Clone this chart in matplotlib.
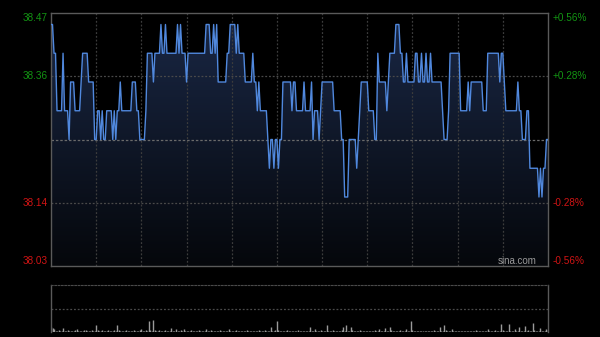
import numpy as np
import matplotlib
matplotlib.use('Agg')
import matplotlib.pyplot as plt
from matplotlib.colors import LinearSegmentedColormap
from matplotlib.transforms import blended_transform_factory

# Intraday price (HK session, 1 point per minute), stored as runs of equal price
seg_price = [38.45, 38.40, 38.30, 38.40, 38.30, 38.25, 38.35, 38.30, 38.35, 38.40,
             38.35, 38.25, 38.30, 38.25, 38.30, 38.25, 38.30, 38.25, 38.30, 38.25,
             38.30, 38.35, 38.30, 38.35, 38.30, 38.25, 38.30, 38.40, 38.35, 38.40,
             38.45, 38.40, 38.45, 38.40, 38.45, 38.40, 38.45, 38.40, 38.35, 38.40,
             38.45, 38.40, 38.45, 38.40, 38.45, 38.35, 38.40, 38.45, 38.40, 38.45,
             38.40, 38.35, 38.40, 38.35, 38.30, 38.35, 38.30, 38.25, 38.20, 38.25,
             38.20, 38.25, 38.20, 38.25, 38.35, 38.30, 38.35, 38.30, 38.35, 38.30,
             38.35, 38.25, 38.30, 38.25, 38.30, 38.35, 38.30, 38.25, 38.15, 38.25,
             38.20, 38.25, 38.30, 38.35, 38.30, 38.25, 38.40, 38.35, 38.30, 38.35,
             38.40, 38.45, 38.40, 38.35, 38.40, 38.35, 38.40, 38.35, 38.40, 38.35,
             38.40, 38.35, 38.40, 38.35, 38.30, 38.25, 38.30, 38.40, 38.30, 38.35,
             38.30, 38.35, 38.30, 38.40, 38.35, 38.40, 38.35, 38.30, 38.35, 38.30,
             38.25, 38.30, 38.20, 38.15, 38.20, 38.15, 38.20, 38.25]
seg_len = [2, 2, 4, 1, 3, 1, 3, 4, 1, 4,
           4, 2, 2, 1, 1, 2, 4, 1, 1, 1,
           2, 1, 7, 3, 2, 4, 1, 4, 1, 4,
           1, 2, 1, 7, 1, 1, 1, 3, 1, 12,
           3, 2, 1, 1, 1, 6, 2, 4, 1, 1,
           4, 5, 1, 2, 1, 1, 5, 1, 1, 2,
           1, 2, 1, 2, 6, 1, 2, 5, 1, 4,
           1, 1, 3, 1, 1, 8, 5, 2, 3, 5,
           1, 1, 1, 5, 4, 2, 1, 5, 1, 1,
           4, 3, 2, 2, 1, 5, 2, 2, 1, 2,
           1, 2, 1, 7, 1, 3, 1, 7, 5, 1,
           1, 8, 3, 8, 1, 2, 1, 8, 1, 2,
           3, 2, 6, 1, 1, 1, 2, 2]
price = np.repeat(seg_price, seg_len)

prev_close = 38.25
y_ticks = [38.47, 38.36, 38.14, 38.03]
y_labels = ['38.47', '38.36', '38.14', '38.03']
pct_labels = ['+0.56%', '+0.28%', '-0.28%', '-0.56%']

# volume per minute (relative)
volume = [5, 4, 3, 1, 1, 2, 1, 1, 4, 1,
          1, 2, 1, 1, 1, 1, 2, 3, 1, 1,
          1, 1, 2, 2, 1, 1, 1, 2, 1, 1,
          7, 2, 1, 1, 2, 1, 1, 1, 2, 1,
          1, 1, 2, 1, 7, 2, 1, 1, 1, 1,
          2, 1, 1, 1, 1, 2, 1, 1, 1, 2,
          3, 1, 1, 2, 1, 11, 2, 1, 12, 2,
          1, 1, 2, 1, 1, 1, 2, 1, 1, 1,
          4, 1, 1, 3, 1, 1, 2, 1, 3, 1,
          1, 1, 1, 2, 1, 1, 1, 1, 2, 1,
          1, 1, 1, 3, 1, 1, 2, 1, 1, 1,
          1, 1, 2, 1, 1, 1, 1, 1, 3, 1,
          1, 1, 1, 2, 1, 1, 1, 1, 1, 1,
          2, 1, 1, 1, 1, 1, 1, 1, 2, 1,
          1, 1, 2, 1, 1, 1, 5, 1, 1, 2,
          11, 2, 1, 1, 1, 1, 1, 2, 1, 1,
          1, 1, 1, 1, 2, 1, 1, 1, 1, 1,
          1, 1, 5, 1, 1, 3, 1, 1, 1, 2,
          1, 1, 1, 7, 1, 1, 1, 2, 1, 1,
          1, 1, 1, 2, 5, 1, 7, 1, 1, 5,
          2, 1, 1, 1, 1, 2, 1, 1, 1, 1,
          1, 1, 1, 1, 1, 2, 1, 1, 3, 1,
          1, 1, 4, 1, 1, 5, 2, 1, 1, 1,
          1, 1, 2, 1, 1, 1, 3, 1, 1, 11,
          2, 1, 1, 1, 1, 1, 1, 1, 1, 1,
          1, 1, 1, 1, 2, 1, 1, 1, 5, 1,
          1, 7, 2, 1, 1, 1, 3, 1, 1, 1,
          1, 1, 1, 1, 1, 1, 1, 1, 1, 1,
          1, 1, 2, 1, 1, 1, 1, 1, 1, 1,
          3, 1, 1, 1, 1, 2, 1, 1, 1, 8,
          2, 1, 1, 1, 8, 1, 1, 1, 3, 1,
          1, 5, 1, 1, 1, 6, 1, 2, 1, 1,
          9, 2, 1, 1, 1, 4, 1, 1, 1, 3,
          2]

GREEN = '#139413'
RED = '#d01414'
GRID = '#3c3c3c'
BORDER = '#5a5a5a'
plt.rcParams['font.family'] = ['Liberation Sans', 'DejaVu Sans']

fig = plt.figure(figsize=(6, 3.37), dpi=100, facecolor='black')
ax = fig.add_axes([51/600, 71/337, 497/600, 253/337])
ax.set_facecolor('black')

x = np.arange(len(price))
ax.set_xlim(0, len(price) - 1)
ax.set_ylim(y_ticks[-1], y_ticks[0])

# gradient fill under the price line
cmap = LinearSegmentedColormap.from_list('fillgrad', ['#05070b', '#1a2846'])
grad = np.linspace(1, 0, 256).reshape(-1, 1)
im = ax.imshow(grad, aspect='auto', cmap=cmap, vmin=0, vmax=1,
               extent=[0, len(price) - 1, y_ticks[-1], y_ticks[0]],
               origin='upper', zorder=1)
poly = ax.fill_between(x, price, y_ticks[-1], facecolor='none', edgecolor='none')
im.set_clip_path(poly.get_paths()[0], transform=ax.transData)

# grid
for m in range(30, len(price) - 1, 30):
    ax.axvline(m, color=GRID, lw=0.9, ls=(0, (1.5, 1.5)), zorder=2)
for v in y_ticks[1:-1]:
    ax.axhline(v, color='#4a4a4a', lw=0.9, ls=(0, (1.5, 1.5)), zorder=2)
ax.axhline(prev_close, color='#6a6a6a', lw=0.9, ls=(0, (2, 1.5)), zorder=2)

ax.plot(x, price, color='#5088dd', lw=1.0, zorder=3)

ax.set_xticks([])
ax.set_yticks([])
for s in ax.spines.values():
    s.set_color(BORDER)
    s.set_linewidth(1)

trans = blended_transform_factory(ax.transAxes, ax.transData)
for i, (v, lab, pct) in enumerate(zip(y_ticks, y_labels, pct_labels)):
    col = GREEN if v > prev_close else RED
    va = 'top' if i == 0 else ('bottom' if i == len(y_ticks) - 1 else 'center')
    ax.text(-0.007, v, lab, transform=trans, ha='right', va=va, color=col, fontsize=7.2)
    ax.text(1.010, v, pct, transform=trans, ha='left', va=va, color=col, fontsize=7.2)

ax.text(0.978, 0.02, 'sina.com', transform=ax.transAxes, ha='right', va='center',
        color='#9a9a9a', fontsize=7, zorder=4)

# volume panel
vax = fig.add_axes([51/600, 5/337, 497/600, 47/337])
vax.set_facecolor('black')
vax.vlines(x, 0, volume, color='#9a9a9a', lw=1.0)
vax.set_xlim(0, len(price) - 1)
vax.set_ylim(0, 47)
vax.axhline(23.5, color='#4a4a4a', lw=0.9, ls=(0, (1.5, 1.5)))
vax.set_xticks([])
vax.set_yticks([])
vax.spines['bottom'].set_visible(False)
vax.spines['top'].set_color('#4a4a4a')
vax.spines['top'].set_linestyle((0, (1.5, 1.5)))
for side in ['left', 'right']:
    vax.spines[side].set_color(BORDER)
    vax.spines[side].set_linewidth(1)

fig.savefig('out.png', dpi=100, facecolor='black')
